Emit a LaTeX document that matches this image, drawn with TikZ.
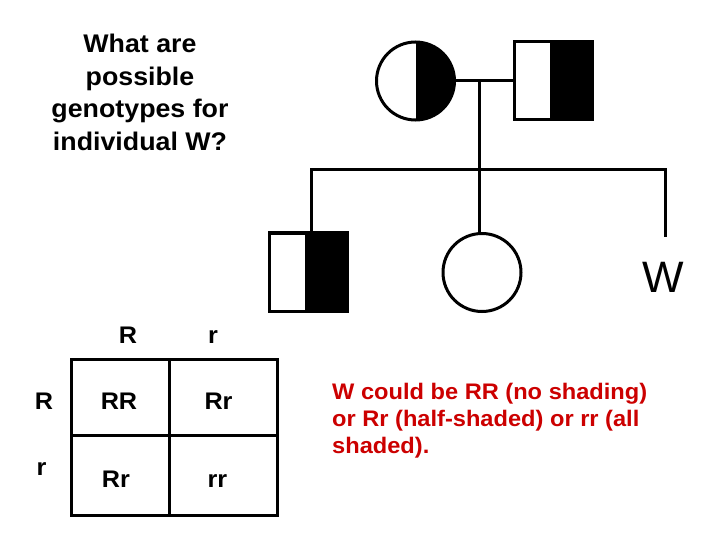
\documentclass[tikz,border=0pt]{standalone}
\usepackage{fontspec}
\setmainfont{Liberation Sans}
\newfontfamily\wfont{Liberation Sans}[FakeStretch=1.05]
\definecolor{ansred}{RGB}{204,0,0}
\begin{document}
\begin{tikzpicture}[x=1pt,y=-1pt,
  ped/.style={draw=black,line width=3pt},
  fem/.style={ped,circle,minimum size=78pt,inner sep=0pt},
  mal/.style={ped,rectangle,minimum size=78pt,inner sep=0pt},
  halfshade/.style={path picture={\fill[black] ([xshift=#1]path picture bounding box.north) rectangle (path picture bounding box.south east);}},
  conn/.style={line width=3pt,line join=miter},
  grid/.style={line width=3pt},
  lbl/.style={font=\wfont\fontsize{24}{28}\selectfont\bfseries,anchor=base,inner sep=0pt}
]
\useasboundingbox[fill=white] (0,0) rectangle (720,540);

% title
\node[font=\wfont\fontsize{25.5}{32.5}\selectfont\bfseries,align=center,anchor=base,inner sep=0pt] (title) at (140,150.5)
  {What are\\possible\\genotypes for\\individual W?};

% pedigree
\node[fem,halfshade=0pt] (mother) at (415.5,81) {};
\node[mal,halfshade=-3pt] (father) at (553,81) {};
\node[mal,halfshade=-3pt] (son) at (308,272) {};
\node[fem] (daughter) at (482,272.5) {};
\node[font=\fontsize{44}{50}\selectfont,anchor=base,inner sep=0pt] (W) at (663,292) {W};

\coordinate (mid) at (479,81);
\coordinate (midlow) at (479,170);
\coordinate (sibL) at (311,170);
\coordinate (sibR) at (665,170);
\coordinate (wEnd) at (665,237);

\draw[conn] (mother.east) -- (father.west);
\draw[conn] (mid) -- (midlow);
\draw[conn] (son.north -| sibL) -- (sibL) -- (sibR) -- (wEnd);
\draw[conn] (midlow) -- (daughter.north -| midlow);

% Punnett square
\coordinate (pTL) at (71,359);
\coordinate (pBR) at (277,515);
\draw[grid] (pTL) rectangle (pBR);
\draw[grid] (169,359) -- (169,515);
\draw[grid] (71,435) -- (277,435);

\node[lbl] (topR) at (128,343) {R};
\node[lbl] (topr) at (213,343) {r};
\node[lbl] (leftR) at (44,409) {R};
\node[lbl] (leftr) at (41.5,475) {r};
\node[lbl] (cRR) at (119,409) {RR};
\node[lbl] (cRr1) at (218.5,409) {Rr};
\node[lbl] (cRr2) at (116,487) {Rr};
\node[lbl] (crr) at (217.5,487) {rr};

% answer
\node[font=\wfont\fontsize{22.5}{27}\selectfont\bfseries,text=ansred,align=left,anchor=base west,inner sep=0pt] (answer) at (332,453)
  {W could be RR (no shading)\\or Rr (half-shaded) or rr (all\\shaded).};
\end{tikzpicture}
\end{document}
